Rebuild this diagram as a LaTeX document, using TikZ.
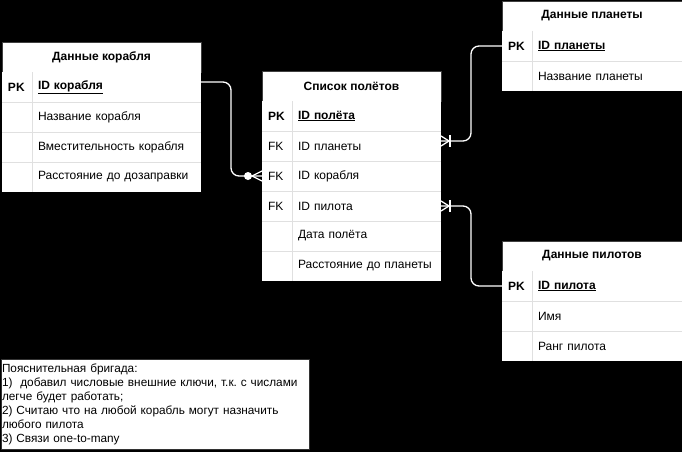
\documentclass[tikz,border=0pt]{standalone}
\usepackage{fontspec}
\setmainfont{Liberation Sans}
\usetikzlibrary{positioning}

\begin{document}
\begin{tikzpicture}[x=1pt,y=-1pt,font=\fontsize{12}{14}\selectfont,node distance=0pt]
  \tikzstyle{head}=[draw=black!75,fill=white,font=\fontsize{12}{14}\selectfont\bfseries,minimum height=30pt,inner sep=0pt,outer sep=0pt,anchor=north west]
  \tikzstyle{keycell}=[fill=white,minimum height=30pt,inner xsep=6pt,inner ysep=0pt,outer sep=0pt,text width=18pt,align=left]
  \tikzset{fieldcell/.style={fill=white,minimum height=30pt,inner xsep=6pt,inner ysep=0pt,outer sep=0pt,text width=#1,align=left}}
  \tikzstyle{rowline}=[draw=black!12,line width=0.8pt]
  \tikzstyle{rel}=[draw=white,line width=1.3pt,rounded corners=8pt]
  \tikzstyle{memo}=[draw=black!80,fill=white,anchor=north west,font=\fontsize{11.8}{14}\selectfont\frenchspacing,text width=306pt,inner xsep=1pt,inner ysep=2pt,outer sep=0pt,minimum height=90pt,align=left]
  \tikzset{
    onemany/.pic={\draw[white,line width=1.3pt] (0,-5) -- (8,0) -- (0,5); \draw[white,line width=1.3pt] (9,-6) -- (9,6);},
    zeromany/.pic={\draw[white,line width=1.3pt] (0,-5) -- (10,0) -- (0,5); \fill[white] (14,0) circle (4pt);}
  }
  \fill[black] (0,0) rectangle (682,452);
  \useasboundingbox (0,0) rectangle (682,452);
  % Ship table
  \node[head,minimum width=199pt] (ship) at (2,42) {Данные корабля};
  \node[keycell,below=of ship.south west,anchor=north west] (shipk1) {\textbf{PK}};
  \node[fieldcell=157pt,right=of shipk1] (ship1) {\textbf{\underline{ID корабля}}};
  \node[keycell,below=of shipk1] (shipk2) {};
  \node[fieldcell=157pt,right=of shipk2] (ship2) {Название корабля};
  \node[keycell,below=of shipk2] (shipk3) {};
  \node[fieldcell=157pt,right=of shipk3] (ship3) {Вместительность корабля};
  \node[keycell,below=of shipk3] (shipk4) {};
  \node[fieldcell=157pt,right=of shipk4] (ship4) {Расстояние до дозаправки};
  \foreach \i in {1,2,3} \draw[rowline] (shipk\i.south west) -- (ship\i.south east);
  \draw[rowline] (shipk1.north east) -- (shipk4.south east);
  % Flights table
  \node[head,minimum width=179pt] (fl) at (262,71) {Список полётов};
  \node[keycell,below=of fl.south west,anchor=north west] (flk1) {\textbf{PK}};
  \node[fieldcell=137pt,right=of flk1] (fl1) {\textbf{\underline{ID полёта}}};
  \node[keycell,below=of flk1] (flk2) {FK};
  \node[fieldcell=137pt,right=of flk2] (fl2) {ID планеты};
  \node[keycell,below=of flk2] (flk3) {FK};
  \node[fieldcell=137pt,right=of flk3] (fl3) {ID корабля};
  \node[keycell,below=of flk3] (flk4) {FK};
  \node[fieldcell=137pt,right=of flk4] (fl4) {ID пилота};
  \node[keycell,below=of flk4] (flk5) {};
  \node[fieldcell=137pt,right=of flk5] (fl5) {Дата полёта};
  \node[keycell,below=of flk5] (flk6) {};
  \node[fieldcell=137pt,right=of flk6] (fl6) {Расстояние до планеты};
  \foreach \i in {1,...,5} \draw[rowline] (flk\i.south west) -- (fl\i.south east);
  \draw[rowline] (flk1.north east) -- (flk6.south east);
  % Planets table
  \node[head,minimum width=180pt] (pl) at (502,1) {Данные планеты};
  \node[keycell,below=of pl.south west,anchor=north west] (plk1) {\textbf{PK}};
  \node[fieldcell=138pt,right=of plk1] (pl1) {\textbf{\underline{ID планеты}}};
  \node[keycell,below=of plk1] (plk2) {};
  \node[fieldcell=138pt,right=of plk2] (pl2) {Название планеты};
  \draw[rowline] (plk1.south west) -- (pl1.south east);
  \draw[rowline] (plk1.north east) -- (plk2.south east);
  % Pilots table
  \node[head,minimum width=180pt] (pi) at (502,241) {Данные пилотов};
  \node[keycell,below=of pi.south west,anchor=north west] (pik1) {\textbf{PK}};
  \node[fieldcell=138pt,right=of pik1] (pi1) {\textbf{\underline{ID пилота}}};
  \node[keycell,below=of pik1] (pik2) {};
  \node[fieldcell=138pt,right=of pik2] (pi2) {Имя};
  \node[keycell,below=of pik2] (pik3) {};
  \node[fieldcell=138pt,right=of pik3] (pi3) {Ранг пилота};
  \foreach \i in {1,2} \draw[rowline] (pik\i.south west) -- (pi\i.south east);
  \draw[rowline] (pik1.north east) -- (pik3.south east);
  % Note
  \node[memo] (note) at (1,359) {Пояснительная бригада:\\1)\ \ добавил числовые внешние ключи, т.к. с числами\\легче будет работать;\\2) Считаю что на любой корабль могут назначить\\любого пилота\\3) Связи one-to-many};
  % Relations
  \draw[rel] ([yshift=5pt]ship1.east) -- ++(30,0) |- (flk3.west);
  \draw[rel] (plk1.west) -- ++(-31,0) |- ([yshift=5pt]fl2.east);
  \draw[rel] (pik1.west) -- ++(-31,0) |- (fl4.east);
  \pic[rotate=180] at (flk3.west) {zeromany};
  \pic at ([yshift=5pt]fl2.east) {onemany};
  \pic at (fl4.east) {onemany};
\end{tikzpicture}
\end{document}
